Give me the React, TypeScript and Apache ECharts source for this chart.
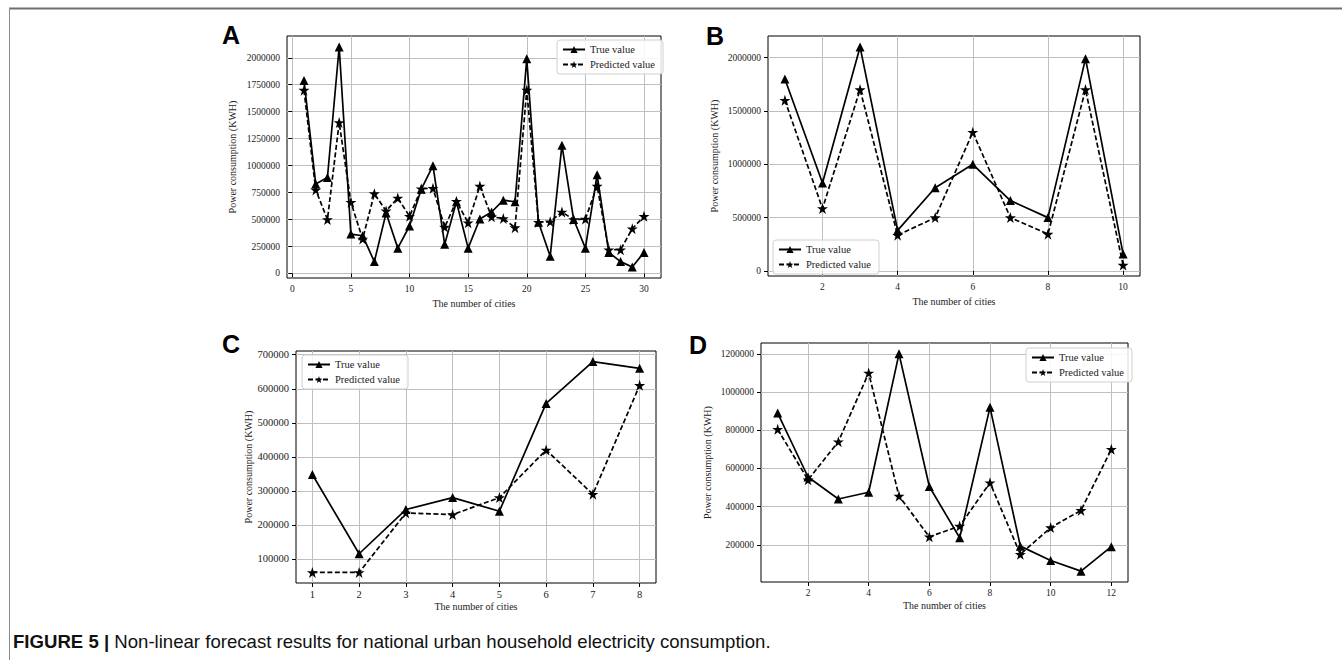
import React, { useEffect, useRef } from "react";
import * as echarts from "echarts";

// ---------- data ----------
const citiesA = [1, 2, 3, 4, 5, 6, 7, 8, 9, 10, 11, 12, 13, 14, 15, 16, 17, 18, 19, 20, 21, 22, 23, 24, 25, 26, 27, 28, 29, 30];
const trueA = [1790000, 830000, 890000, 2100000, 365000, 350000, 110000, 560000, 235000, 440000, 780000, 1000000, 270000, 665000, 235000, 505000, 570000, 680000, 665000, 1990000, 475000, 160000, 1190000, 500000, 235000, 915000, 195000, 110000, 60000, 195000];
const predA = [1700000, 775000, 500000, 1400000, 660000, 320000, 740000, 580000, 700000, 530000, 785000, 790000, 430000, 670000, 470000, 810000, 525000, 510000, 425000, 1700000, 475000, 480000, 570000, 500000, 505000, 810000, 220000, 220000, 415000, 530000];

const citiesB = [1, 2, 3, 4, 5, 6, 7, 8, 9, 10];
const trueB = [1800000, 825000, 2100000, 380000, 780000, 1000000, 660000, 500000, 1990000, 160000];
const predB = [1600000, 585000, 1700000, 335000, 500000, 1300000, 500000, 345000, 1700000, 55000];

const citiesC = [1, 2, 3, 4, 5, 6, 7, 8];
const trueC = [348000, 115000, 245000, 280000, 240000, 557000, 680000, 660000];
const predC = [60000, 60000, 235000, 230000, 280000, 420000, 290000, 610000];

const citiesD = [1, 2, 3, 4, 5, 6, 7, 8, 9, 10, 11, 12];
const trueD = [890000, 555000, 440000, 475000, 1200000, 505000, 237000, 920000, 193000, 118000, 62000, 190000];
const predD = [805000, 540000, 740000, 1100000, 455000, 242000, 298000, 525000, 150000, 290000, 380000, 700000];

const xTicksA = [0, 5, 10, 15, 20, 25, 30];
const yTicksA = [0, 250000, 500000, 750000, 1000000, 1250000, 1500000, 1750000, 2000000];
const xTicksB = [2, 4, 6, 8, 10];
const yTicksB = [0, 500000, 1000000, 1500000, 2000000];
const xTicksC = [1, 2, 3, 4, 5, 6, 7, 8];
const yTicksC = [100000, 200000, 300000, 400000, 500000, 600000, 700000];
const xTicksD = [2, 4, 6, 8, 10, 12];
const yTicksD = [200000, 400000, 600000, 800000, 1000000, 1200000];

const seriesNames = ["True value", "Predicted value"];
const xTitle = "The number of cities";
const yTitle = "Power consumption (KWH)";
const panelLetters = ["A", "B", "C", "D"];
const captionBold = "FIGURE 5 |";
const captionText = " Non-linear forecast results for national urban household electricity consumption.";

// ---------- styling ----------
const SERIF = "'Liberation Serif', 'DejaVu Serif', serif";
const SANS = "'Liberation Sans', Arial, sans-serif";
const STAR =
  "path://M0,-10L2.245,-3.09L9.511,-3.09L3.633,1.18L5.878,8.09L0,3.82L-5.878,8.09L-3.633,1.18L-9.511,-3.09L-2.245,-3.09Z";

function padExtent(vals: number[]) {
  const mn = Math.min(...vals);
  const mx = Math.max(...vals);
  const r = mx - mn;
  return [mn - 0.05 * r, mx + 0.05 * r];
}

type Panel = {
  grid: { left: number; top: number; width: number; height: number };
  xs: number[];
  t: number[];
  p: number[];
  xTicks: number[];
  yTicks: number[];
  legend: { left: number; top: number };
  yNameGap: number;
  xNameGap: number;
  tickFont: number;
};

const panels: Panel[] = [
  {
    grid: { left: 287, top: 36, width: 374, height: 242 },
    xs: citiesA, t: trueA, p: predA, xTicks: xTicksA, yTicks: yTicksA,
    legend: { left: 557, top: 40 }, yNameGap: 50, xNameGap: 20, tickFont: 9.5,
  },
  {
    grid: { left: 768, top: 36, width: 372, height: 240 },
    xs: citiesB, t: trueB, p: predB, xTicks: xTicksB, yTicks: yTicksB,
    legend: { left: 773, top: 240 }, yNameGap: 49, xNameGap: 20, tickFont: 9.5,
  },
  {
    grid: { left: 296, top: 351, width: 360, height: 232 },
    xs: citiesC, t: trueC, p: predC, xTicks: xTicksC, yTicks: yTicksC,
    legend: { left: 302, top: 355 }, yNameGap: 42, xNameGap: 18, tickFont: 10.5,
  },
  {
    grid: { left: 761, top: 343, width: 367, height: 239 },
    xs: citiesD, t: trueD, p: predD, xTicks: xTicksD, yTicks: yTicksD,
    legend: { left: 1026, top: 348 }, yNameGap: 49, xNameGap: 18, tickFont: 9.5,
  },
];

const letterPos = [
  { left: 222, top: 22 },
  { left: 706, top: 23 },
  { left: 222, top: 331 },
  { left: 689, top: 332 },
];

export default function App() {
  const ref = useRef<HTMLDivElement>(null);

  useEffect(() => {
    document.body.style.margin = "0";
    if (!ref.current) return;
    const chart = echarts.init(ref.current, undefined, { renderer: "svg" });

    const grids: any[] = [];
    const xAxes: any[] = [];
    const yAxes: any[] = [];
    const series: any[] = [];
    const legends: any[] = [];

    panels.forEach((pn, i) => {
      grids.push({
        ...pn.grid,
        show: true,
        borderColor: "#000",
        borderWidth: 1,
        backgroundColor: "transparent",
        containLabel: false,
        outerBoundsMode: "none",
      });
      const xe = padExtent(pn.xs);
      const ye = padExtent([...pn.t, ...pn.p]);
      const labelStyle = {
        fontFamily: SERIF,
        fontSize: pn.tickFont,
        color: "#222",
      };
      xAxes.push({
        type: "value",
        gridIndex: i,
        min: xe[0],
        max: xe[1],
        axisLine: { show: false },
        axisTick: { show: true, length: 4, lineStyle: { color: "#000", width: 1 }, customValues: pn.xTicks },
        axisLabel: { ...labelStyle, margin: 6, customValues: pn.xTicks, formatter: (v: number) => String(v) },
        splitLine: { show: true, lineStyle: { color: "#bfbfbf", width: 1 } },
        name: xTitle,
        nameLocation: "middle",
        nameGap: pn.xNameGap,
        nameTextStyle: { fontFamily: SERIF, fontSize: 10, color: "#222" },
      });
      yAxes.push({
        type: "value",
        gridIndex: i,
        min: ye[0],
        max: ye[1],
        axisLine: { show: false },
        axisTick: { show: true, length: 4, lineStyle: { color: "#000", width: 1 }, customValues: pn.yTicks },
        axisLabel: { ...labelStyle, margin: 7, customValues: pn.yTicks, formatter: (v: number) => String(v) },
        splitLine: { show: true, lineStyle: { color: "#bfbfbf", width: 1 } },
        name: yTitle,
        nameLocation: "middle",
        nameGap: pn.yNameGap,
        nameTextStyle: { fontFamily: SERIF, fontSize: 10, color: "#222" },
      });
      series.push({
        type: "line",
        name: seriesNames[0],
        xAxisIndex: i,
        yAxisIndex: i,
        data: pn.xs.map((x, j) => [x, pn.t[j]]),
        symbol: "triangle",
        symbolSize: 9,
        showAllSymbol: true,
        lineStyle: { color: "#000", width: 1.7 },
        itemStyle: { color: "#000", borderWidth: 0 },
        z: 3,
      });
      series.push({
        type: "line",
        name: seriesNames[1],
        xAxisIndex: i,
        yAxisIndex: i,
        data: pn.xs.map((x, j) => [x, pn.p[j]]),
        symbol: STAR,
        symbolSize: 11,
        showAllSymbol: true,
        lineStyle: { color: "#000", width: 1.7, type: [5, 2.5] },
        itemStyle: { color: "#000", borderWidth: 0 },
        z: 4,
      });
      legends.push({
        left: pn.legend.left,
        top: pn.legend.top,
        orient: "vertical",
        data: seriesNames,
        itemWidth: 22,
        itemHeight: 9,
        itemGap: 4,
        padding: [4, 8, 4, 5],
        borderColor: "#d0d0d0",
        borderWidth: 1,
        borderRadius: 3,
        backgroundColor: "rgba(255,255,255,0.85)",
        selectedMode: false,
        textStyle: { fontFamily: SERIF, fontSize: 10.5, color: "#222" },
      });
    });

    const graphics: any[] = panelLetters.map((L, i) => ({
      type: "text",
      left: letterPos[i].left,
      top: letterPos[i].top,
      style: { text: L, font: `bold 25px ${SANS}`, fill: "#000" },
    }));
    graphics.push({
      type: "line",
      shape: { x1: 9, y1: 8.5, x2: 1342, y2: 8.5 },
      style: { stroke: "#6f6f6f", lineWidth: 2 },
    });
    graphics.push({
      type: "line",
      shape: { x1: 9.5, y1: 8, x2: 9.5, y2: 660 },
      style: { stroke: "#8a8a8a", lineWidth: 1 },
    });
    graphics.push({
      type: "text",
      left: 13,
      top: 632,
      style: {
        text: `{b|${captionBold}}${captionText}`,
        font: `18.6px ${SANS}`,
        fill: "#111",
        rich: {
          b: { font: `bold 18.6px ${SANS}`, fill: "#111" },
        },
      },
    });

    chart.setOption({
      animation: false,
      backgroundColor: "#fff",
      grid: grids,
      xAxis: xAxes,
      yAxis: yAxes,
      series,
      legend: legends,
      graphic: graphics,
    });

    return () => chart.dispose();
  }, []);

  return <div ref={ref} style={{ width: 1342, height: 670 }} />;
}
